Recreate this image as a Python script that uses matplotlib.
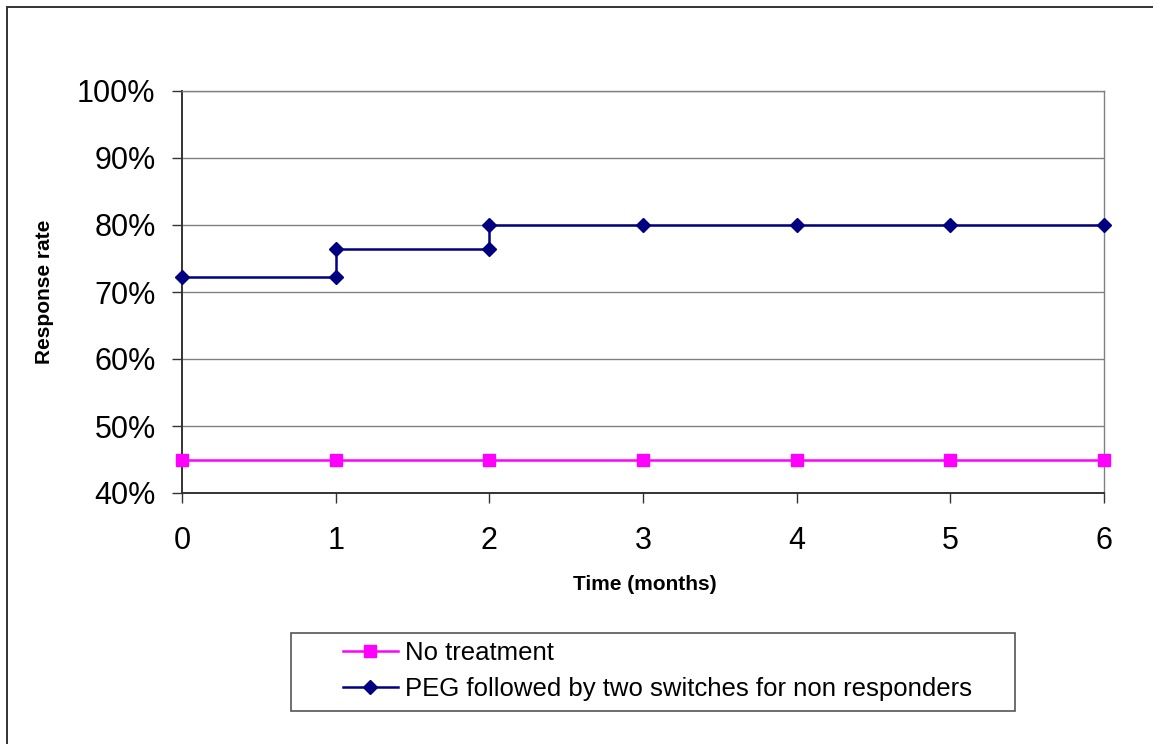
import matplotlib
matplotlib.use("Agg")
import matplotlib.pyplot as plt
from matplotlib.ticker import PercentFormatter, MultipleLocator
from matplotlib.patches import Rectangle
from matplotlib.lines import Line2D

plt.rcParams["font.family"] = ["Liberation Sans", "DejaVu Sans"]

# Data (response rate as fraction)
months = [0, 1, 2, 3, 4, 5, 6]
no_treatment = [0.449, 0.449, 0.449, 0.449, 0.449, 0.449, 0.449]

# PEG arm is a step curve: corner points repeat at months 1 and 2
peg_months = [0, 1, 1, 2, 2, 3, 4, 5, 6]
peg_rate = [0.722, 0.722, 0.764, 0.764, 0.80, 0.80, 0.80, 0.80, 0.80]

labels = ["No treatment", "PEG followed by two switches for non responders"]

W, H = 1153, 744
fig = plt.figure(figsize=(W / 100, H / 100), dpi=100)
ax = fig.add_axes([182 / W, 1 - 493 / H, 922 / W, 402 / H])

ax.plot(months, no_treatment, color="#FF00FF", lw=1.8, marker="s", ms=8,
        mec="#FF00FF", mfc="#FF00FF", clip_on=False, zorder=3)
ax.plot(peg_months, peg_rate, color="#000080", lw=1.8, marker="D", ms=7,
        mec="#000080", mfc="#000080", clip_on=False, zorder=4)

ax.set_xlim(0, 6)
ax.set_ylim(0.40, 1.00)
ax.xaxis.set_major_locator(MultipleLocator(1))
ax.yaxis.set_major_locator(MultipleLocator(0.10))
ax.yaxis.set_major_formatter(PercentFormatter(1.0, decimals=0))
ax.grid(axis="y", color="#808080", lw=1.0)
ax.set_axisbelow(True)

for side in ["top", "right"]:
    ax.spines[side].set_color("#808080")
    ax.spines[side].set_linewidth(1.0)
for side in ["left", "bottom"]:
    ax.spines[side].set_color("#333333")
    ax.spines[side].set_linewidth(1.4)

ax.tick_params(axis="both", direction="out", length=7, width=1.0,
               color="#333333", labelsize=22)
ax.tick_params(axis="y", pad=12)
ax.tick_params(axis="x", pad=17)

# axis titles
fig.text(645 / W, 1 - 585 / H, "Time (months)", fontsize=15, fontweight="bold",
         ha="center", va="center")
fig.text(45 / W, 1 - 292 / H, "Response rate", fontsize=15, fontweight="bold",
         ha="center", va="center", rotation=90)

# legend with a wide box drawn separately
handles = [
    Line2D([], [], color="#FF00FF", lw=1.8, marker="s", ms=8),
    Line2D([], [], color="#000080", lw=1.8, marker="D", ms=7),
]
leg = fig.legend(handles, labels, loc="center left",
                 bbox_to_anchor=(330 / W, 1 - 671 / H), frameon=False,
                 fontsize=18.5, handlelength=2.15, handletextpad=0.27,
                 labelspacing=0.5, borderpad=0.0)
fig.patches.append(Rectangle((291 / W, 1 - 711 / H), 724 / W, 78 / H,
                             transform=fig.transFigure, fill=False,
                             edgecolor="#555555", lw=1.2))

# outer chart border (only top and left show in the crop)
fig.patches.append(Rectangle((7 / W, -0.1), 1.2, 1 - 7 / H + 0.1,
                             transform=fig.transFigure, fill=False,
                             edgecolor="#333333", lw=1.4))

fig.savefig("out.png", dpi=100)
